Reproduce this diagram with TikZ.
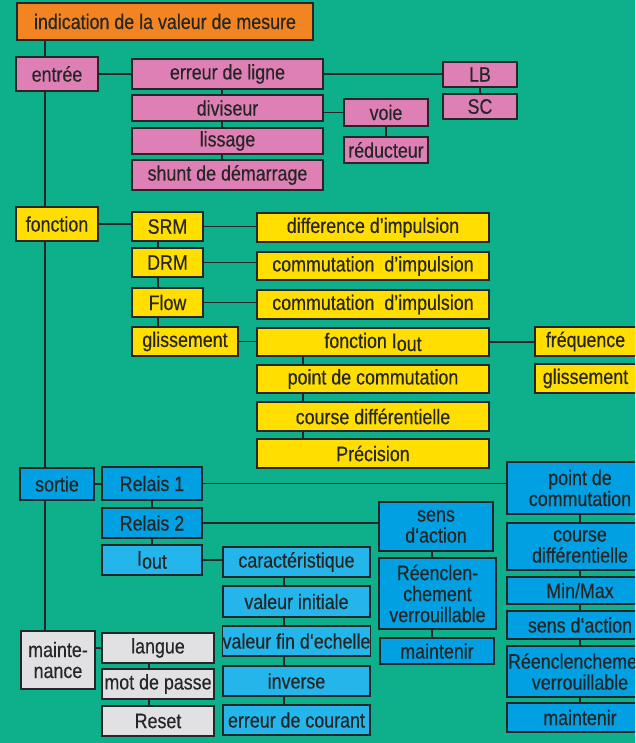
\documentclass[tikz,border=0pt]{standalone}
\usepackage{fontspec}
\setmainfont{Liberation Sans}[FakeStretch=0.85,FakeBold=0.4]
\usepackage{tikz}
\usepackage{xcolor}
\definecolor{fond}{RGB}{14,176,140}
\definecolor{orangebox}{RGB}{242,133,34}
\definecolor{rosebox}{RGB}{222,128,182}
\definecolor{jaunebox}{RGB}{255,222,0}
\definecolor{bleubox}{RGB}{0,160,226}
\definecolor{bleuclair}{RGB}{36,181,234}
\definecolor{grisbox}{RGB}{225,225,227}
\definecolor{trait}{RGB}{38,38,38}

\begin{document}
\begin{tikzpicture}[x=1pt,y=-1pt,
		boite/.style={draw=trait,line width=1.3pt,inner sep=0pt,align=center,text=trait,font=\fontsize{21}{21}\selectfont},
		taille/.style 2 args={minimum width=#1,minimum height=#2},
		rose/.style={boite,fill=rosebox},
		jaune/.style={boite,fill=jaunebox},
		bleu/.style={boite,fill=bleubox},
		bleuc/.style={boite,fill=bleuclair},
		gris/.style={boite,fill=grisbox},
		lien/.style={draw=trait,line width=1.4pt}]
			\fill[fond] (0,0) rectangle (635,743);
			\clip (0,0) rectangle (635,743);
			\node[boite,fill=orangebox,taille={296pt}{37pt}] (indication) at (165,21.5) {indication de la valeur de mesure};
			\node[rose,taille={82pt}{34pt}] (entree) at (57,74) {entrée};
			\node[rose,taille={191pt}{30pt}] (erreur) at (227.5,74) {erreur de ligne};
			\node[rose,taille={191pt}{26pt}] (diviseur) at (227.5,108) {diviseur};
			\node[rose,taille={191pt}{26pt}] (lissage) at (227.5,141) {lissage};
			\node[rose,taille={191pt}{30pt}] (shunt) at (227.5,175) {shunt de démarrage};
			\node[rose,taille={74pt}{25pt}] (LB) at (480,74.5) {LB};
			\node[rose,taille={74pt}{25pt}] (SC) at (480,106.5) {SC};
			\node[rose,taille={84pt}{27pt}] (voie) at (386,112.5) {voie};
			\node[rose,taille={84pt}{26pt}] (reducteur) at (386,150) {réducteur};
			\node[jaune,taille={82pt}{34pt}] (fonction) at (57,224) {fonction};
			\node[jaune,taille={71pt}{29pt}] (SRM) at (167.5,226.5) {SRM};
			\node[jaune,taille={71pt}{29pt}] (DRM) at (167.5,262.5) {DRM};
			\node[jaune,taille={71pt}{29pt}] (Flow) at (167.5,302.5) {Flow};
			\node[jaune,taille={106pt}{29pt}] (glissement) at (185,341.5) {glissement};
			\node[jaune,taille={232pt}{29pt}] (difference) at (373,227.5) {difference d’impulsion};
			\node[jaune,taille={232pt}{28pt}] (commutA) at (373,266) {commutation\ \ d’impulsion};
			\node[jaune,taille={232pt}{29pt}] (commutB) at (373,304.5) {commutation\ \ d’impulsion};
			\node[jaune,taille={232pt}{28pt}] (fonctionIout) at (373,342) {fonction I\raisebox{-3pt}{out}};
			\node[jaune,taille={232pt}{28pt}] (pointJ) at (373,379) {point de commutation};
			\node[jaune,taille={232pt}{29pt}] (courseJ) at (373,416.5) {course différentielle};
			\node[jaune,taille={232pt}{29pt}] (precision) at (373,453.5) {Précision};
			\node[jaune,taille={101pt}{29pt}] (frequence) at (585.5,341.5) {fréquence};
			\node[jaune,taille={101pt}{29pt}] (glissementB) at (585.5,378.5) {glissement};
			\node[bleu,taille={74pt}{32pt}] (sortie) at (57,484) {sortie};
			\node[bleu,taille={100pt}{33pt}] (relaisA) at (152,483.5) {Relais 1};
			\node[bleu,taille={100pt}{30pt}] (relaisB) at (152,523) {Relais 2};
			\node[bleuc,taille={100pt}{30pt}] (Iout) at (152,560) {I\raisebox{-3pt}{out}};
			\node[bleuc,taille={147pt}{30pt}] (caract) at (296.5,562) {caractéristique};
			\node[bleuc,taille={147pt}{31pt}] (initiale) at (296.5,601.5) {valeur initiale};
			\node[bleuc,taille={147pt}{30pt}] (finechelle) at (296.5,641) {valeur fin d‘echelle};
			\node[bleuc,taille={147pt}{30pt}] (inverse) at (296.5,681) {inverse};
			\node[bleuc,taille={147pt}{30pt}] (courant) at (296.5,720) {erreur de courant};
			\node[bleu,taille={114pt}{49pt}] (sensM) at (436,526.5) {sens\\d‘action};
			\node[bleu,taille={117pt}{71pt}] (reenclM) at (437.5,593.5) {Réenclen-\\chement\\verrouillable};
			\node[bleu,taille={114pt}{26pt}] (maintenirM) at (437,651) {maintenir};
			\node[bleu,taille={146pt}{52pt}] (pointB) at (580,488) {point de\\commutation};
			\node[bleu,taille={146pt}{47pt}] (courseB) at (580,546.5) {course\\différentielle};
			\node[bleu,taille={146pt}{27pt}] (minmax) at (580,590.5) {Min/Max};
			\node[bleu,taille={146pt}{28pt}] (sensB) at (580,625) {sens d‘action};
			\node[bleu,taille={146pt}{51pt}] (reenclB) at (580,671.5) {Réenclenchement\\verrouillable};
			\node[bleu,taille={146pt}{29pt}] (maintenirB) at (580,717.5) {maintenir};
			\node[gris,taille={74pt}{58pt}] (maintenance) at (58,660) {mainte-\\nance};
			\node[gris,taille={112pt}{30pt}] (langue) at (158,648) {langue};
			\node[gris,taille={112pt}{30pt}] (motdepasse) at (158,684) {mot de passe};
			\node[gris,taille={112pt}{30pt}] (reset) at (158,721) {Reset};
			\coordinate (tronc) at (45,0);
			\coordinate (colR) at (222,0);
			\coordinate (colS) at (158,0);
			\coordinate (colJ) at (303,0);
			\coordinate (colC) at (284,0);
			\coordinate (colM) at (432,0);
			\coordinate (colG) at (149,0);
			\foreach \a/\b in {indication/entree,entree/fonction,fonction/sortie,sortie/maintenance}
				\draw[lien] (\a.south -| tronc) -- (\b.north -| tronc);
			\foreach \a/\b in {erreur/diviseur,diviseur/lissage,lissage/shunt}
				\draw[lien] (\a.south -| colR) -- (\b.north -| colR);
			\foreach \a/\b in {SRM/DRM,DRM/Flow,Flow/glissement}
				\draw[lien] (\a.south -| colS) -- (\b.north -| colS);
			\foreach \a/\b in {fonctionIout/pointJ,pointJ/courseJ,courseJ/precision}
				\draw[lien] (\a.south -| colJ) -- (\b.north -| colJ);
			\foreach \a/\b in {caract/initiale,initiale/finechelle,finechelle/inverse,inverse/courant}
				\draw[lien] (\a.south -| colC) -- (\b.north -| colC);
			\foreach \a/\b in {sensM/reenclM,reenclM/maintenirM}
				\draw[lien] (\a.south -| colM) -- (\b.north -| colM);
			\foreach \a/\b in {langue/motdepasse,motdepasse/reset}
				\draw[lien] (\a.south -| colG) -- (\b.north -| colG);
			\foreach \a/\b in {LB/SC,voie/reducteur,relaisA/relaisB,relaisB/Iout,pointB/courseB,courseB/minmax,minmax/sensB,sensB/reenclB,reenclB/maintenirB}
				\draw[lien] (\a) -- (\b);
			\foreach \a/\b in {entree/erreur,erreur/LB,fonction/SRM,SRM/difference,DRM/commutA,Flow/commutB,glissement/fonctionIout,fonctionIout/frequence,sortie/relaisA,relaisA/pointB,relaisB/sensM,Iout/caract}
				\draw[lien] (\a.east) -- (\a.east -| \b.west);
			\draw[lien] (diviseur.east |- voie.west) -- (voie.west);
			\draw[lien] (maintenance.east |- langue.west) -- (langue.west);
		\end{tikzpicture}
\end{document}
